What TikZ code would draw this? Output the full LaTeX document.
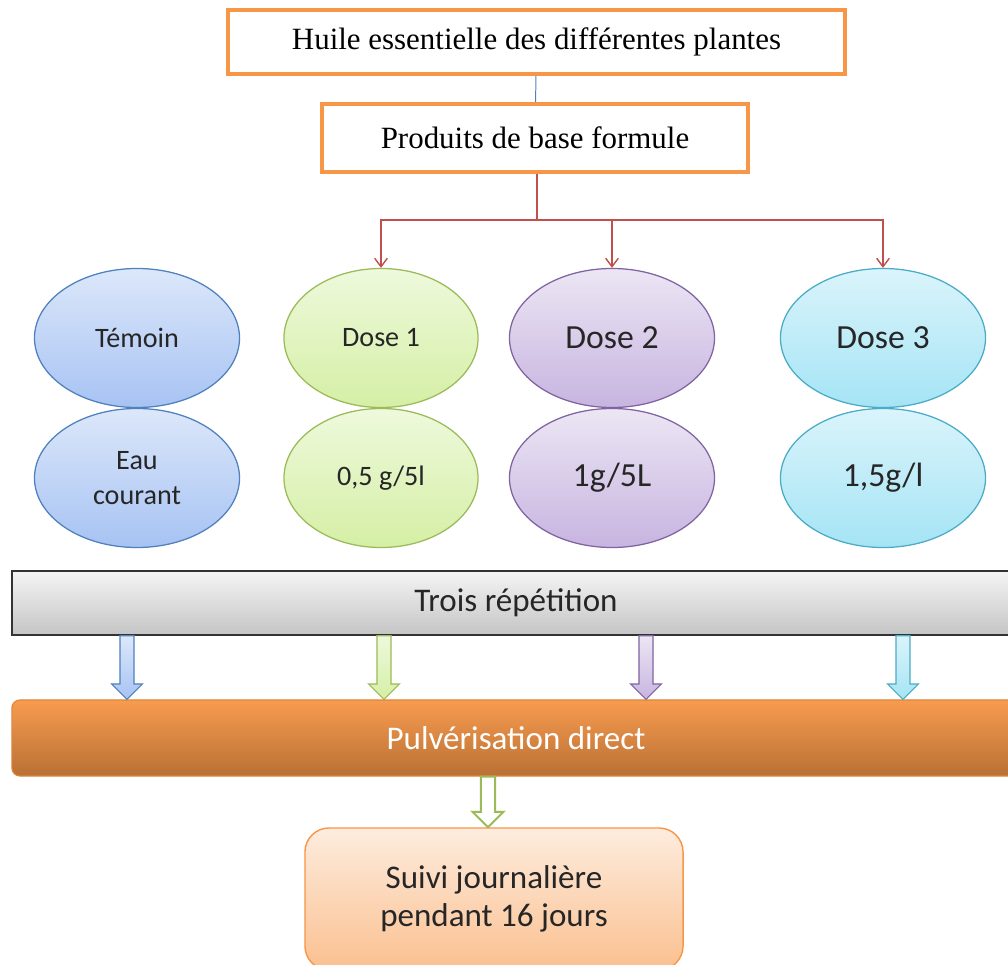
\documentclass[tikz,border=0pt]{standalone}
\usepackage{fontspec}
\setmainfont{Liberation Serif}
\newfontfamily\calibri{Carlito}
\usepackage{tikz}
\usetikzlibrary{shapes.geometric,arrows.meta,calc}

\definecolor{orangeB}{HTML}{F79646}
\definecolor{rougeL}{HTML}{C0504D}
\definecolor{bleuB}{HTML}{4F81BD}\definecolor{bleuT}{HTML}{DCE7FA}\definecolor{bleuD}{HTML}{A7C3F3}
\definecolor{vertB}{HTML}{9BBB59}\definecolor{vertT}{HTML}{EEF9DC}\definecolor{vertD}{HTML}{D5EFA5}
\definecolor{violB}{HTML}{8064A2}\definecolor{violT}{HTML}{ECE6F4}\definecolor{violD}{HTML}{C7B4E0}
\definecolor{cielB}{HTML}{4BACC6}\definecolor{cielT}{HTML}{DAF4FB}\definecolor{cielD}{HTML}{A5E4F5}

\tikzset{
  cadre/.style={draw=orangeB, line width=2.5pt, fill=white, inner sep=0pt,
    font=\fontsize{22}{26}\selectfont},
  bulle/.style={ellipse, minimum width=5.125cm, minimum height=3.475cm, inner sep=0pt,
    line width=0.9pt, align=center, text=black!85},
  petit/.style={font=\calibri\fontsize{20}{25}\selectfont},
  grand/.style={font=\calibri\fontsize{24}{28}\selectfont},
  cbleu/.style={draw=bleuB, top color=bleuT, bottom color=bleuD},
  cvert/.style={draw=vertB, top color=vertT, bottom color=vertD},
  cviol/.style={draw=violB, top color=violT, bottom color=violD},
  cciel/.style={draw=cielB, top color=cielT, bottom color=cielD},
  branche/.style={draw=rougeL, line width=1pt},
}

% fleche pleine entre deux barres : x, depart, arrivee, style
\newcommand{\fleche}[4]{%
  \draw[line width=0.8pt, #4] let \p1=(#1,0), \p2=(#2.south), \p3=(#3.north) in
    (\x1-5pt,\y2) -- (\x1+5pt,\y2) -- (\x1+5pt,\y3+11pt) -- (\x1+11pt,\y3+11pt)
    -- (\x1,\y3) -- (\x1-11pt,\y3+11pt) -- (\x1-5pt,\y3+11pt) -- cycle;}

\begin{document}
\begin{tikzpicture}[x=0.025cm,y=-0.025cm]
    \useasboundingbox (0,0) rectangle (1008,965);
    \clip (0,0) rectangle (1008,965);

    \node[cadre, minimum width=15.425cm, minimum height=1.6cm] (huile) at (536.5,42) {Huile essentielle des différentes plantes};
    \node[cadre, minimum width=10.65cm, minimum height=1.7cm] (produits) at (535,138) {Produits de base formule};
    \draw[bleuB, line width=0.7pt] (huile) -- (produits);

    \node[bulle, cbleu, petit] (temoin) at (137,338) {Témoin};
    \node[bulle, cvert, petit, minimum width=4.85cm] (dose1) at (381,338) {Dose 1};
    \node[bulle, cviol, grand] (dose2) at (612,338) {Dose 2};
    \node[bulle, cciel, grand] (dose3) at (883,338) {Dose 3};
    \node[bulle, cbleu, petit] (eau) at (137,478) {Eau\\courant};
    \node[bulle, cvert, petit, minimum width=4.85cm] (qte1) at (381,478) {0,5 g/5l};
    \node[bulle, cviol, grand] (qte2) at (612,478) {1g/5L};
    \node[bulle, cciel, grand] (qte3) at (883,478) {1,5g/l};

    \coordinate (fourche) at (537,220);
    \draw[branche] (produits.south -| fourche) -- (fourche);
    \draw[branche,-{Straight Barb[length=6pt,width=9pt]}] (fourche) -| (dose1.north);
    \draw[branche,-{Straight Barb[length=6pt,width=9pt]}] (fourche) -| (dose2.north);
    \draw[branche,-{Straight Barb[length=6pt,width=9pt]}] (fourche) -| (dose3.north);

    \node[draw=black!80, line width=1pt, top color=black!4, bottom color=black!23,
      minimum width=25.2cm, minimum height=1.6cm, inner sep=0pt,
      font=\calibri\fontsize{23.5}{28}\selectfont, text=black!85] (rep) at (516,603) {Trois répétition};
    \node[draw=orangeB!90!black, line width=0.8pt, rounded corners=0.2cm,
      top color=orangeB!95!white, bottom color=orangeB!75!black,
      minimum width=25.2cm, minimum height=1.9cm, inner sep=0pt,
      font=\calibri\fontsize{23.5}{28}\selectfont, text=white] (pulv) at (516,738) {Pulvérisation direct};
    \node[draw=orangeB, line width=1pt, rounded corners=0.6cm,
      top color=orangeB!18!white, bottom color=orangeB!60!white,
      minimum width=9.45cm, minimum height=3.55cm, inner sep=0pt, align=center,
      font=\calibri\fontsize{23.5}{27}\selectfont, text=black!85] (suivi) at (494,899) {Suivi journalière\\pendant 16 jours};

    \fleche{127}{rep}{pulv}{cbleu}
    \fleche{384}{rep}{pulv}{cvert}
    \fleche{646}{rep}{pulv}{cviol}
    \fleche{903}{rep}{pulv}{cciel}
    \fleche{488}{pulv}{suivi}{draw=vertB, fill=white, line width=1.4pt}
  \end{tikzpicture}
\end{document}
